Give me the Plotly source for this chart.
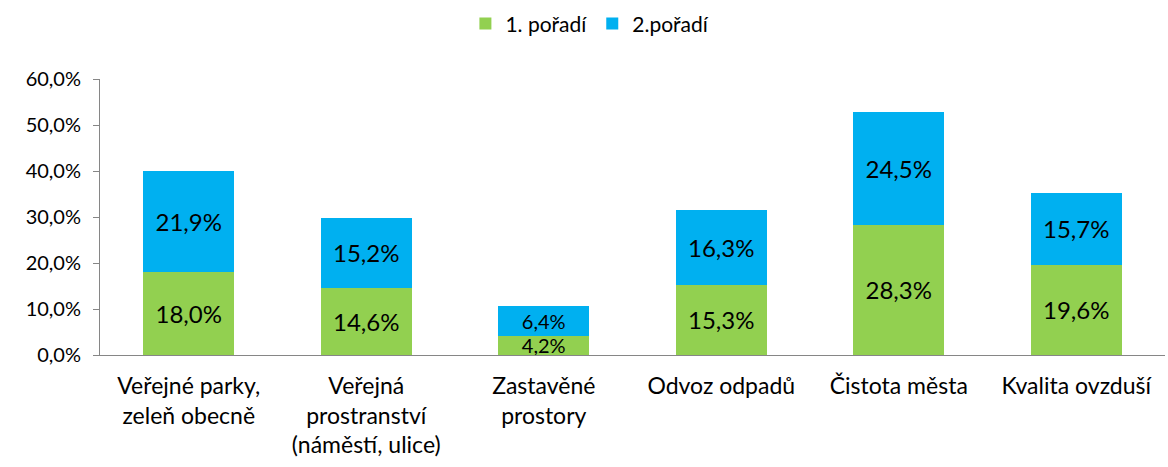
import plotly.graph_objects as go

categories = [
    "Veřejné parky,<br>zeleň obecně",
    "Veřejná<br>prostranství<br>(náměstí, ulice)",
    "Zastavěné<br>prostory",
    "Odvoz odpadů",
    "Čistota města",
    "Kvalita ovzduší",
]
first_rank = [18.0, 14.6, 4.2, 15.3, 28.3, 19.6]
second_rank = [21.9, 15.2, 6.4, 16.3, 24.5, 15.7]
tick_vals = [0, 10, 20, 30, 40, 50, 60]
tick_text = ["0,0%", "10,0%", "20,0%", "30,0%", "40,0%", "50,0%", "60,0%"]

FONT = "Lato, 'Open Sans', sans-serif"


def pct(v):
    return f"{v:.1f}%".replace(".", ",")


def label_sizes(first, second):
    # a slightly smaller label where the stacked segments are short
    return [20 if (a + b) < 12 else 24 for a, b in zip(first, second)]


sizes = label_sizes(first_rank, second_rank)

fig = go.Figure()
fig.add_trace(go.Bar(
    x=categories, y=first_rank, name="1. pořadí",
    marker=dict(color="#92D050", line=dict(width=0)),
    text=[pct(v) for v in first_rank], textposition="inside",
    insidetextanchor="middle", textfont=dict(size=sizes, color="#000000", family=FONT),
    textangle=0, cliponaxis=False,
))
fig.add_trace(go.Bar(
    x=categories, y=second_rank, name="2.pořadí",
    marker=dict(color="#00B0F0", line=dict(width=0)),
    text=[pct(v) for v in second_rank], textposition="inside",
    insidetextanchor="middle", textfont=dict(size=sizes, color="#000000", family=FONT),
    textangle=0, cliponaxis=False,
))

fig.update_layout(
    width=1168, height=467,
    barmode="stack", bargap=0.49,
    plot_bgcolor="white", paper_bgcolor="white",
    margin=dict(l=100, r=3, t=77, b=112),
    font=dict(family=FONT, size=20, color="#000000"),
    uniformtext=dict(minsize=20, mode="show"),
    legend=dict(
        orientation="h", x=0.46, xanchor="center", y=1.2, yanchor="middle",
        font=dict(size=21, family=FONT), traceorder="normal",
        itemwidth=30,
    ),
    xaxis=dict(
        showline=True, linecolor="#868686", linewidth=1,
        ticks="", showgrid=False, tickfont=dict(size=23, family=FONT),
        ticklabelstandoff=10,
    ),
    yaxis=dict(
        range=[0, 60], tickvals=tick_vals, ticktext=tick_text,
        showline=True, linecolor="#868686", linewidth=1,
        ticks="outside", ticklen=6, tickcolor="#868686",
        showgrid=False, zeroline=False, tickfont=dict(size=20, family=FONT),
        ticklabelstandoff=8,
    ),
)

fig.write_html("out.html")
